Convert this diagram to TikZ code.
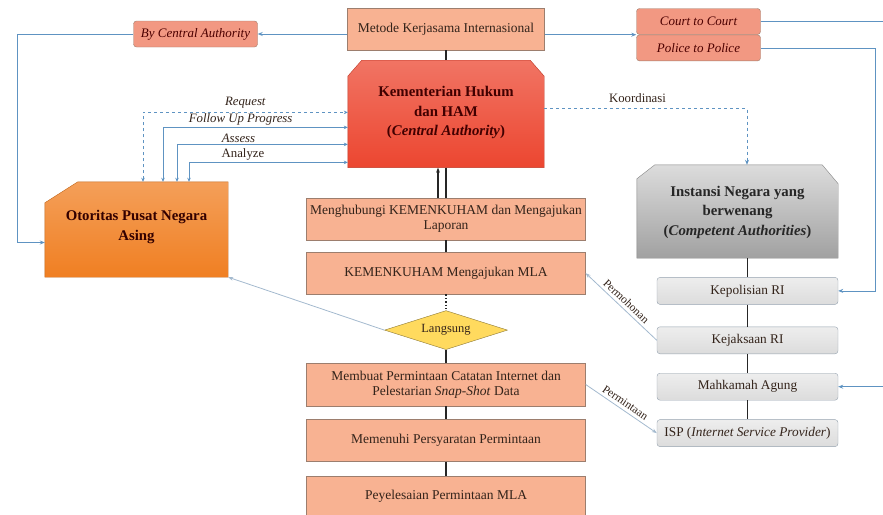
\documentclass[tikz,border=0pt]{standalone}
\usepackage{fontspec}
\setmainfont{Liberation Serif}
\usetikzlibrary{arrows.meta,positioning,shapes.geometric,backgrounds}
\definecolor{peach}{HTML}{F8B292}
\definecolor{peachline}{HTML}{9C7E6E}
\definecolor{salmon}{HTML}{F29882}
\definecolor{merah}{HTML}{EC4630}
\definecolor{oranye}{HTML}{F07F22}
\definecolor{abu}{HTML}{BDBDBD}
\definecolor{abumuda}{HTML}{DCDCDC}
\definecolor{biru}{HTML}{5E93C2}
\definecolor{birumuda}{HTML}{A3B9CE}
\definecolor{kuning}{HTML}{FFDA5E}
\definecolor{teks}{HTML}{33231A}

\begin{document}
\begin{tikzpicture}[
		font=\fontsize{13.5}{15}\selectfont,
		node distance=12pt,
		every node/.style={align=center},
		langkah/.style={rectangle, draw=peachline, fill=peach, text=teks,
				minimum width=279pt, minimum height=42pt, inner sep=2pt},
		pipih/.style={rectangle, rounded corners=3pt, draw=peachline, fill=salmon,
				minimum width=124pt, minimum height=26pt, inner sep=1pt,
				font=\fontsize{13}{14}\selectfont\itshape, text=red!30!black},
		kelabu/.style={rectangle, rounded corners=3pt, draw=birumuda!60!gray,
				top color=abumuda!50!white, bottom color=abumuda,
				minimum width=181pt, minimum height=27pt, inner sep=1pt, text=teks,
				font=\fontsize{13.3}{15}\selectfont},
		blok/.style={rectangle, inner sep=2pt,
				font=\fontsize{14.8}{19.5}\selectfont\bfseries},
		panah/.style={-{Stealth[length=5pt,width=4pt]}, thick, biru},
		duaarah/.style={{Stealth[length=4pt,width=3.5pt]}-{Stealth[length=4pt,width=3.5pt]},
				thick, biru},
		hitam/.style={line width=1.8pt, black!85},
		tipis/.style={thick, birumuda},
		lbl/.style={font=\fontsize{12.8}{14}\selectfont, inner sep=1.5pt, text=teks},
		miring/.style={sloped, above, font=\fontsize{11.5}{12}\selectfont, text=teks, inner sep=3pt},
	]
	\useasboundingbox (0pt,0pt) rectangle (883pt,-514pt);

	% Kolom tengah
	\node[langkah, minimum width=197pt] (metode) at (446pt,-29pt) {Metode Kerjasama Internasional};
	\node[blok, below=10pt of metode, minimum width=196pt, minimum height=107pt,
		text=red!25!black] (kemen)
	{\mbox{}\\[-12pt]Kementerian Hukum\\dan HAM\\(\textit{Central Authority})};
	\node[langkah, below=30pt of kemen] (hub) {Menghubungi KEMENKUHAM dan Mengajukan\\Laporan};
	\node[langkah, below=of hub] (mla) {KEMENKUHAM Mengajukan MLA};
	\node[diamond, aspect=3.15, below=16pt of mla, minimum width=123pt, minimum height=39pt,
		inner sep=0pt, fill=kuning, draw=kuning!55!black, text=teks,
		font=\fontsize{12.5}{13}\selectfont] (langsung) {Langsung};
	\node[langkah, minimum height=43pt, below=13pt of langsung] (buat)
	{Membuat Permintaan Catatan Internet dan\\Pelestarian \textit{Snap-Shot} Data};
	\node[langkah, below=13pt of buat]   (penuhi)  {Memenuhi Persyaratan Permintaan};
	\node[langkah, minimum height=41pt, below=14pt of penuhi] (selesai) {Peyelesaian Permintaan MLA};

	% Kiri: otoritas asing
	\node[pipih] (byca) at (195.5pt,-34pt) {By Central Authority};
	\node[blok, minimum width=183pt, minimum height=95pt, text=black!80!red]
	(otoritas) at (136.5pt,-229.5pt) {\mbox{}\\[-14pt]Otoritas Pusat Negara\\Asing};

	% Kanan: instansi berwenang
	\node[pipih] (court) at (698.5pt,-21.5pt) {Court to Court};
	\node[pipih, below=0pt of court] (police) {Police to Police};
	\node[blok, minimum width=201pt, minimum height=93pt, text=black!85]
	(instansi) at (737.5pt,-211.5pt)
	{\mbox{}\\[-8pt]Instansi Negara yang\\berwenang\\(\textit{Competent Authorities})};
	\node[kelabu, below=19pt of instansi.south east, anchor=north east] (polri) {Kepolisian RI};
	\node[kelabu, below=22pt of polri]  (jaksa)    {Kejaksaan RI};
	\node[kelabu, below=19pt of jaksa]  (mahkamah) {Mahkamah Agung};
	\node[kelabu, below=19pt of mahkamah] (isp)    {ISP (\textit{Internet Service Provider})};

	% Bentuk blok bersudut (latar)
	\begin{scope}[on background layer]
		\path[draw=merah!80!black, top color=merah!75!white, bottom color=merah]
		([yshift=-16pt]kemen.north west) -- ([xshift=14pt]kemen.north west)
		-- ([xshift=-14pt]kemen.north east) -- ([yshift=-16pt]kemen.north east)
		-- (kemen.south east) -- (kemen.south west) -- cycle;
		\path[draw=oranye!80!black, top color=oranye!75!white, bottom color=oranye]
		([yshift=-21pt]otoritas.north west) -- ([xshift=33pt]otoritas.north west)
		-- (otoritas.north east) -- (otoritas.south east) -- (otoritas.south west) -- cycle;
		\path[draw=abu!70!black, top color=abumuda, bottom color=abu!85!black]
		([yshift=-14pt]instansi.north west) -- ([xshift=18pt]instansi.north west)
		-- ([xshift=-16pt]instansi.north east) -- ([yshift=-19pt]instansi.north east)
		-- (instansi.south east) -- (instansi.south west) -- cycle;
	\end{scope}

	% Garis hitam kolom tengah
	\draw[hitam] (metode) -- (kemen);
	\draw[hitam] (kemen) -- (hub);
	\draw[hitam, -{Stealth[length=5pt]}] ([xshift=-8pt]hub.north) -- ([xshift=-8pt]kemen.south);
	\draw[hitam] (hub) -- (mla);
	\draw[hitam, line width=1.4pt, dotted] (mla) -- (langsung);
	\draw[hitam] (langsung) -- (buat);
	\draw[hitam] (buat) -- (penuhi);
	\draw[hitam] (penuhi) -- (selesai);
	\draw[hitam] (polri.north |- instansi.south) -- (polri.north);
	\draw[hitam] (polri) -- (jaksa);
	\draw[hitam] (jaksa) -- (mahkamah);
	\draw[hitam] (mahkamah) -- (isp);

	% Metode kerjasama
	\draw[panah] (metode.west |- byca.east) -- (byca.east);
	\draw[panah] (byca.west) -- ++(-116pt,0) |- ([yshift=-13pt]otoritas.west);
	\draw[panah] (metode.east |- court.south west) -- (court.south west);
	\draw[panah] (court.east) -- ++(128pt,0) |- (mahkamah.east);
	\draw[panah] (police.east) -- ++(115pt,0) |- (polri.east);

	% Otoritas <-> Kementerian
	\draw[duaarah, dashed] ([xshift=6.5pt]otoritas.north) |- ([yshift=1.5pt]kemen.west)
	node[lbl, pos=0.75, above=2pt] {\textit{Request}};
	\draw[duaarah] ([xshift=26.5pt]otoritas.north) |- ([yshift=-13.5pt]kemen.west)
	node[lbl, pos=0.71, above] {\textit{Follow Up Progress}};
	\draw[duaarah] ([xshift=40.5pt]otoritas.north) |- ([yshift=-30.5pt]kemen.west)
	node[lbl, pos=0.68, above] {\textit{Assess}};
	\draw[duaarah] ([xshift=52.5pt]otoritas.north) |- ([yshift=-48.5pt]kemen.west)
	node[lbl, pos=0.67, above] {Analyze};

	% Koordinasi
	\draw[panah, dashed] ([yshift=5.5pt]kemen.east) -| ([xshift=9.5pt]instansi.north)
	node[lbl, pos=0.23, above=4pt] {Koordinasi};

	% Jalur langsung
	\draw[tipis, -{Stealth[length=5pt]}] (langsung.west) -- (otoritas.south east);
	\draw[tipis, {Stealth[length=5pt]}-] (mla.east) -- node[miring] {Permohonan} (jaksa.west);
	\draw[tipis, -{Stealth[length=5pt]}] (buat.east) -- node[miring] {Permintaan} (isp.west);

\end{tikzpicture}
\end{document}
